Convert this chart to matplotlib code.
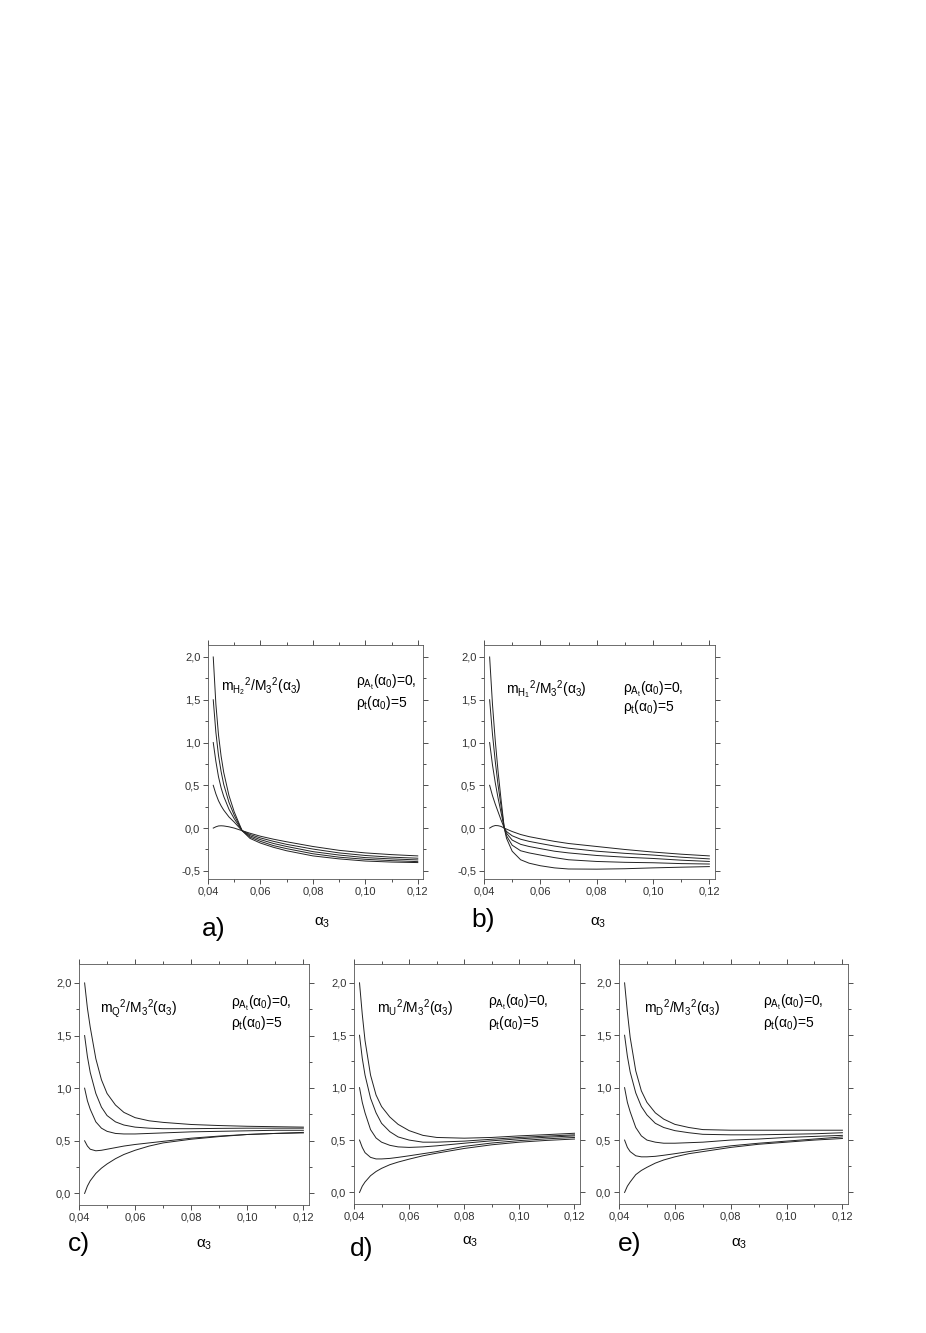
import matplotlib
matplotlib.use('Agg')
import matplotlib.pyplot as plt
from matplotlib.ticker import MultipleLocator, FuncFormatter

plt.rcParams['font.family'] = ['Liberation Sans', 'DejaVu Sans']
plt.rcParams['mathtext.fontset'] = 'custom'
plt.rcParams['mathtext.rm'] = 'Liberation Sans'
plt.rcParams['mathtext.it'] = 'Liberation Sans'
plt.rcParams['mathtext.bf'] = 'Liberation Sans:bold'

# --- data (alpha_3 on x, ratio on y) ---
# panel a: m_H2^2 / M_3^2
x_a = [0.042, 0.043, 0.044, 0.045, 0.046, 0.048, 0.050, 0.053, 0.056, 0.060,
       0.065, 0.070, 0.080, 0.090, 0.100, 0.110, 0.120]
a_curves = [
    [0.0, 0.015, 0.025, 0.027, 0.025, 0.015, 0.0, -0.03, -0.06, -0.095, -0.13, -0.16, -0.215, -0.26, -0.29, -0.31, -0.325],
    [0.5, 0.40, 0.32, 0.26, 0.21, 0.13, 0.07, -0.03, -0.075, -0.115, -0.155, -0.19, -0.245, -0.29, -0.32, -0.34, -0.352],
    [1.0, 0.78, 0.60, 0.47, 0.37, 0.22, 0.11, -0.03, -0.09, -0.135, -0.18, -0.215, -0.275, -0.315, -0.345, -0.36, -0.372],
    [1.5, 1.12, 0.85, 0.66, 0.51, 0.30, 0.15, -0.03, -0.105, -0.155, -0.205, -0.24, -0.30, -0.34, -0.365, -0.38, -0.392],
    [2.0, 1.45, 1.09, 0.84, 0.65, 0.38, 0.19, -0.03, -0.12, -0.175, -0.225, -0.265, -0.325, -0.36, -0.385, -0.397, -0.403],
]

# panel b: m_H1^2 / M_3^2
x_b = [0.042, 0.043, 0.044, 0.045, 0.046, 0.0472, 0.048, 0.050, 0.053, 0.056,
       0.060, 0.065, 0.070, 0.080, 0.090, 0.100, 0.110, 0.120]
b_curves = [
    [0.0, 0.02, 0.03, 0.028, 0.02, 0.0, -0.012, -0.04, -0.075, -0.10, -0.125, -0.155, -0.18, -0.215, -0.25, -0.28, -0.305, -0.325],
    [0.5, 0.38, 0.28, 0.19, 0.10, 0.0, -0.04, -0.09, -0.13, -0.155, -0.18, -0.21, -0.235, -0.27, -0.295, -0.315, -0.34, -0.36],
    [1.0, 0.74, 0.53, 0.35, 0.19, 0.0, -0.06, -0.14, -0.19, -0.215, -0.24, -0.27, -0.29, -0.32, -0.34, -0.355, -0.375, -0.39],
    [1.5, 1.10, 0.78, 0.50, 0.27, 0.0, -0.09, -0.20, -0.265, -0.29, -0.315, -0.345, -0.37, -0.39, -0.40, -0.405, -0.415, -0.42],
    [2.0, 1.45, 1.02, 0.66, 0.35, 0.0, -0.12, -0.27, -0.37, -0.41, -0.44, -0.465, -0.478, -0.48, -0.475, -0.465, -0.457, -0.45],
]

# panels c, d, e share the x grid
x_low = [0.042, 0.043, 0.044, 0.046, 0.048, 0.050, 0.053, 0.056, 0.060, 0.065,
         0.070, 0.080, 0.090, 0.100, 0.110, 0.120]
c_curves = [
    [0.0, 0.07, 0.12, 0.19, 0.24, 0.28, 0.33, 0.37, 0.41, 0.45, 0.48, 0.515, 0.54, 0.56, 0.57, 0.575],
    [0.5, 0.45, 0.42, 0.405, 0.41, 0.42, 0.435, 0.45, 0.465, 0.48, 0.495, 0.525, 0.545, 0.56, 0.57, 0.58],
    [1.0, 0.88, 0.80, 0.68, 0.62, 0.59, 0.57, 0.565, 0.565, 0.57, 0.575, 0.585, 0.59, 0.595, 0.60, 0.60],
    [1.5, 1.30, 1.15, 0.95, 0.82, 0.74, 0.68, 0.65, 0.63, 0.62, 0.615, 0.615, 0.618, 0.62, 0.62, 0.62],
    [2.0, 1.76, 1.58, 1.28, 1.08, 0.95, 0.84, 0.77, 0.72, 0.69, 0.675, 0.655, 0.645, 0.638, 0.634, 0.63],
]
d_curves = [
    [0.0, 0.06, 0.10, 0.16, 0.20, 0.23, 0.265, 0.29, 0.318, 0.35, 0.375, 0.42, 0.455, 0.48, 0.497, 0.51],
    [0.5, 0.43, 0.38, 0.335, 0.32, 0.32, 0.325, 0.335, 0.35, 0.37, 0.39, 0.44, 0.472, 0.495, 0.512, 0.525],
    [1.0, 0.86, 0.76, 0.60, 0.52, 0.48, 0.45, 0.435, 0.43, 0.435, 0.445, 0.47, 0.493, 0.512, 0.527, 0.54],
    [1.5, 1.28, 1.12, 0.90, 0.76, 0.66, 0.58, 0.53, 0.50, 0.48, 0.48, 0.49, 0.508, 0.525, 0.538, 0.55],
    [2.0, 1.70, 1.45, 1.12, 0.93, 0.82, 0.72, 0.65, 0.59, 0.545, 0.525, 0.518, 0.525, 0.54, 0.552, 0.565],
]
e_curves = [
    [0.0, 0.06, 0.10, 0.17, 0.21, 0.24, 0.28, 0.31, 0.34, 0.37, 0.39, 0.43, 0.46, 0.48, 0.50, 0.515],
    [0.5, 0.43, 0.39, 0.35, 0.34, 0.34, 0.345, 0.355, 0.37, 0.39, 0.41, 0.445, 0.47, 0.49, 0.51, 0.53],
    [1.0, 0.86, 0.77, 0.62, 0.54, 0.50, 0.48, 0.47, 0.47, 0.475, 0.48, 0.50, 0.51, 0.525, 0.535, 0.545],
    [1.5, 1.30, 1.15, 0.95, 0.82, 0.74, 0.66, 0.62, 0.59, 0.57, 0.555, 0.55, 0.55, 0.555, 0.56, 0.57],
    [2.0, 1.72, 1.48, 1.16, 0.97, 0.86, 0.76, 0.70, 0.65, 0.62, 0.60, 0.594, 0.594, 0.594, 0.594, 0.594],
]

quantity_labels = [r'$\mathrm{m}_{\mathrm{H}_{2}}{}^{2}/\mathrm{M}_{3}{}^{2}(\alpha_{3})$',
                   r'$\mathrm{m}_{\mathrm{H}_{1}}{}^{2}/\mathrm{M}_{3}{}^{2}(\alpha_{3})$',
                   r'$\mathrm{m}_{\mathrm{Q}}{}^{2}/\mathrm{M}_{3}{}^{2}(\alpha_{3})$',
                   r'$\mathrm{m}_{\mathrm{U}}{}^{2}/\mathrm{M}_{3}{}^{2}(\alpha_{3})$',
                   r'$\mathrm{m}_{\mathrm{D}}{}^{2}/\mathrm{M}_{3}{}^{2}(\alpha_{3})$']
panel_letters = ['a)', 'b)', 'c)', 'd)', 'e)']
rho_line1 = r'$\rho_{\mathrm{A}_{\mathrm{t}}}(\alpha_{0})$=0,'
rho_line2 = r'$\rho_{\mathrm{t}}(\alpha_{0})$=5'

W, H = 926, 1333
fig = plt.figure(figsize=(W / 100, H / 100), dpi=100)


def px_axes(x0, y0, x1, y1):
    return fig.add_axes([x0 / W, 1 - y1 / H, (x1 - x0) / W, (y1 - y0) / H])


# pixel boxes of the five panels
boxes = [(208, 645, 423, 879), (484, 645, 715, 879),
         (79, 964, 309, 1205), (354, 964, 580, 1204), (619, 964, 848, 1204)]
ylims = [(-0.595, 2.14), (-0.595, 2.14), (-0.11, 2.18), (-0.11, 2.18), (-0.11, 2.18)]
xs_all = [x_a, x_b, x_low, x_low, x_low]
curves_all = [a_curves, b_curves, c_curves, d_curves, e_curves]
# text placements (axes fraction): quantity label, rho block
qpos = [(0.06, 0.82), (0.097, 0.81), (0.09, 0.817), (0.10, 0.817), (0.107, 0.817)]
rpos = [(0.69, 0.838, 0.752), (0.60, 0.808, 0.737), (0.66, 0.838, 0.755),
        (0.594, 0.838, 0.755), (0.63, 0.838, 0.755)]
letter_px = [(214, 929), (483, 920), (79, 1244), (362, 1249), (630, 1244)]
alpha_px = [(322, 923), (598, 923), (204, 1245), (470, 1242), (739, 1244)]

xfmt = FuncFormatter(lambda v, p: ('%.2f' % v).replace('.', ','))
yfmt = FuncFormatter(lambda v, p: ('%.1f' % v).replace('.', ','))

for i in range(5):
    ax = px_axes(*boxes[i])
    for ys in curves_all[i]:
        ax.plot(xs_all[i], ys, color='#222222', linewidth=0.7)
    ax.set_xlim(0.04, 0.122)
    ax.set_ylim(*ylims[i])
    ax.xaxis.set_major_locator(MultipleLocator(0.02))
    ax.xaxis.set_minor_locator(MultipleLocator(0.01))
    ax.yaxis.set_major_locator(MultipleLocator(0.5))
    ax.yaxis.set_minor_locator(MultipleLocator(0.25))
    ax.xaxis.set_major_formatter(xfmt)
    ax.yaxis.set_major_formatter(yfmt)
    ax.tick_params(which='both', direction='out', top=True, right=True,
                   labelsize=8, colors='#333333', width=0.6, pad=2)
    ax.tick_params(which='major', length=3.5)
    ax.tick_params(which='minor', length=2.5)
    for sp in ax.spines.values():
        sp.set_color('#555555')
        sp.set_linewidth(0.6)

    ax.text(qpos[i][0], qpos[i][1], quantity_labels[i], transform=ax.transAxes,
            fontsize=10, va='center', ha='left')
    ax.text(rpos[i][0], rpos[i][1], rho_line1, transform=ax.transAxes,
            fontsize=10, va='center', ha='left')
    ax.text(rpos[i][0], rpos[i][2], rho_line2, transform=ax.transAxes,
            fontsize=10, va='center', ha='left')

    lx, ly = letter_px[i]
    fig.text(lx / W, 1 - ly / H, panel_letters[i], fontsize=19, ha='center', va='center')
    axx, axy = alpha_px[i]
    fig.text(axx / W, 1 - axy / H, r'$\alpha_{3}$', fontsize=11, ha='center', va='center')

fig.savefig('out.png', dpi=100)
